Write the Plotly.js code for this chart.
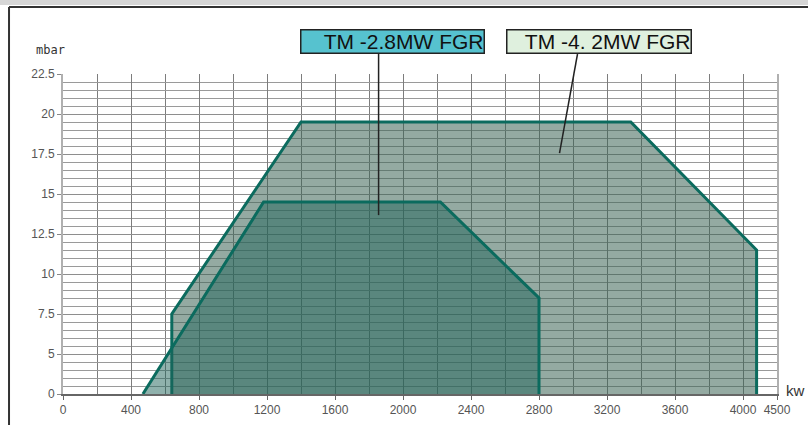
<!DOCTYPE html>
<html>
<head>
<meta charset="utf-8">
<script src="https://cdn.plot.ly/plotly-3.0.1.min.js"></script>
<style>
html,body{margin:0;padding:0;background:#fff;}
#chart{width:808px;height:425px;}
</style>
</head>
<body>
<div id="chart"></div>
<script>
// ---- data (kW, mbar) ----
const seriesNames = ['TM -4. 2MW FGR', 'TM -2.8MW FGR'];
const loadBig = [640, 640, 1400, 3340, 4200, 4200];
const presBig = [0, 7.5, 19.5, 19.5, 11.5, 0];
const loadSmall = [470, 1180, 2220, 2800, 2800];
const presSmall = [0, 14.5, 14.5, 8.5, 0];
const xTickVals = [0, 400, 800, 1200, 1600, 2000, 2400, 2800, 3200, 3600, 4000, 4500];
const yTickVals = [0, 5, 7.5, 10, 12.5, 15, 17.5, 20, 22.5];

// the original chart compresses the last x interval (4000-4500) and the first y interval (0-5)
function xPos(v) { return v <= 4000 ? v : 4000 + (v - 4000) * 0.4; }
function yPos(v) { return v >= 5 ? v : 2.5 + v * 0.5; }

const xMinor = [];
for (let v = 200; v < 4000; v += 400) xMinor.push(v);
const yMinor = [];
for (let v = 2.5; v <= 22.5; v += 0.5) yMinor.push(v);

const edge = '#0b6b5e';
const traces = [
  {
    x: loadBig.map(xPos), y: presBig.map(yPos), name: seriesNames[0],
    type: 'scatter', mode: 'lines', fill: 'toself',
    fillcolor: 'rgba(60,100,86,0.55)',
    line: {color: edge, width: 3}, hoverinfo: 'skip'
  },
  {
    x: loadSmall.map(xPos), y: presSmall.map(yPos), name: seriesNames[1],
    type: 'scatter', mode: 'lines', fill: 'toself',
    fillcolor: 'rgba(32,100,90,0.5)',
    line: {color: edge, width: 3}, hoverinfo: 'skip'
  }
];

const tickFont = {family: 'Liberation Sans, Arial, sans-serif', size: 12, color: '#555'};
const labelFont = {family: 'Liberation Sans Narrow, Arial Narrow, Liberation Sans, sans-serif', size: 21, color: '#111'};

const layout = {
  width: 808, height: 425,
  margin: {l: 63, r: 31, t: 74, b: 31},
  paper_bgcolor: '#fff', plot_bgcolor: '#fff',
  showlegend: false,
  xaxis: {
    range: [0, xPos(4500)], tickmode: 'array',
    tickvals: xTickVals.map(xPos), ticktext: xTickVals.map(String),
    showgrid: true, gridcolor: '#7d7d7d', gridwidth: 1,
    minor: {tickmode: 'array', tickvals: xMinor, showgrid: true, gridcolor: '#7d7d7d', gridwidth: 1, ticks: ''},
    ticks: 'outside', ticklen: 4, tickcolor: '#666',
    showline: true, linecolor: '#666', linewidth: 1.5,
    zeroline: false, tickfont: tickFont, fixedrange: true
  },
  yaxis: {
    range: [yPos(0), 22.5], tickmode: 'array',
    tickvals: yTickVals.map(yPos), ticktext: yTickVals.map(String),
    showgrid: true, gridcolor: '#8e8e8e', gridwidth: 1,
    minor: {tickmode: 'array', tickvals: yMinor, showgrid: true, gridcolor: '#9a9a9a', gridwidth: 1, ticks: ''},
    ticks: 'outside', ticklen: 4, tickcolor: '#888',
    showline: true, linecolor: '#b0b0b0', linewidth: 2, mirror: true,
    zeroline: false, tickfont: tickFont, fixedrange: true
  },
  shapes: [
    // page strip and frame
    {type: 'rect', xref: 'paper', yref: 'paper', x0: -0.09, x1: 1.05, y0: 1.2156, y1: 1.24,
     fillcolor: '#d6d6d6', line: {width: 0}, layer: 'below'},
    {type: 'line', xref: 'paper', yref: 'paper', x0: -0.0756, x1: -0.0756, y0: 1.209, y1: -0.2,
     line: {color: '#333', width: 2}},
    {type: 'line', xref: 'paper', yref: 'paper', x0: -0.0756, x1: 1.05, y0: 1.209, y1: 1.209,
     line: {color: '#333', width: 2}},
    // pointer lines from labels into the areas
    {type: 'line', xref: 'paper', yref: 'paper', x0: 0.442, x1: 0.442, y0: 1.0625, y1: 0.559,
     line: {color: '#222', width: 1.5}},
    {type: 'line', xref: 'paper', yref: 'paper', x0: 0.7206, x1: 0.6954, y0: 1.0625, y1: 0.753,
     line: {color: '#222', width: 1.5}}
  ],
  annotations: [
    {text: seriesNames[1], xref: 'paper', yref: 'paper', x: (392.5 - 63) / 714.7, y: (394 - 41.5) / 320,
     xanchor: 'center', yanchor: 'middle', showarrow: false, font: labelFont,
     bgcolor: '#56c2cf', bordercolor: '#222', borderwidth: 1.5, borderpad: 0, width: 182, height: 22, align: 'right'},
    {text: seriesNames[0], xref: 'paper', yref: 'paper', x: (600 - 63) / 714.7, y: (394 - 41.5) / 320,
     xanchor: 'center', yanchor: 'middle', showarrow: false, font: labelFont,
     bgcolor: '#dff0de', bordercolor: '#222', borderwidth: 1.5, borderpad: 0, width: 183, height: 22, align: 'right'},
    {text: 'mbar', xref: 'paper', yref: 'paper', x: (34 - 63) / 714.7, y: (394 - 50) / 320,
     xanchor: 'left', yanchor: 'middle', showarrow: false,
     font: {family: 'DejaVu Sans Mono, monospace', size: 12, color: '#333'}},
    {text: 'kw', xref: 'paper', yref: 'paper', x: (785 - 63) / 714.7, y: (394 - 390) / 320,
     xanchor: 'left', yanchor: 'middle', showarrow: false,
     font: {family: 'Liberation Sans, Arial, sans-serif', size: 15, color: '#333'}}
  ]
};

Plotly.newPlot('chart', traces, layout, {displayModeBar: false, staticPlot: true});
</script>
</body>
</html>
